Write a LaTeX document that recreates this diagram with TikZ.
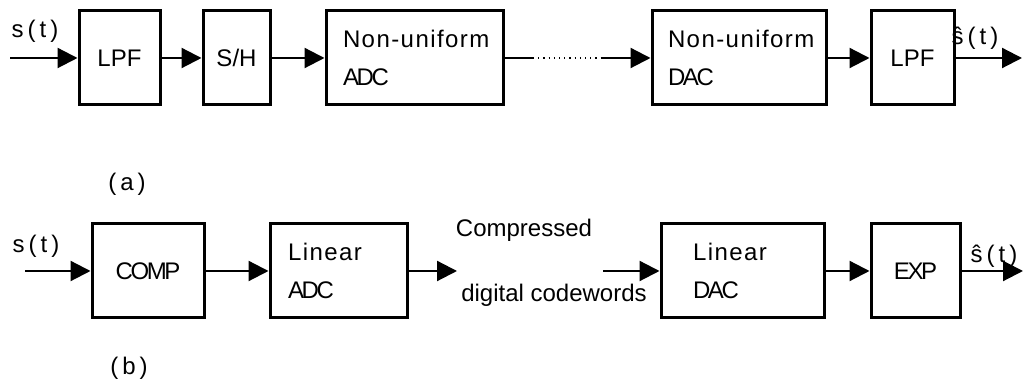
\documentclass[tikz,border=0pt]{standalone}
\usepackage{fontspec}
\setmainfont{Liberation Sans}
\newfontfamily\tight[LetterSpace=-10]{Liberation Sans}
\newfontfamily\wideft[LetterSpace=6]{Liberation Sans}
\usepackage{tikz}
\usetikzlibrary{arrows.meta, positioning}
\tikzset{box/.style={rectangle,draw,line width=1.5pt,minimum height=47pt,inner sep=0pt,align=center,font=\fontsize{12}{14}\selectfont},
  wbox/.style 2 args={box,align=left,text width=#1,inner xsep=#2,font=\fontsize{12}{19}\selectfont},
  line/.style={line width=1.1pt,-{Triangle[length=10pt,width=10pt]}},
  lbl/.style={anchor=base,inner sep=0pt,font=\fontsize{12}{14}\selectfont}}

\begin{document}
\begin{tikzpicture}[x=0.5pt,y=-0.5pt]
\useasboundingbox (0,0) rectangle (1024,383);
% (a) non-uniform converters
\node[box, minimum width=40.5pt] (lpf1) at (119.5,58) {LPF};
\node[box, minimum width=33.5pt, right=20pt of lpf1] (sh) {S/H};
\node[wbox={71.5pt}{8.5pt}, right=26.5pt of sh] (nadc) {\mbox{\wideft Non-uniform}\\{\tight ADC}};
\node[wbox={71pt}{8pt}, right=73pt of nadc] (ndac) {\mbox{\wideft Non-uniform}\\{\tight DAC}};
\node[box, minimum width=41.5pt, right=21pt of ndac] (lpf2) {LPF};
\coordinate (ina) at (10,58);
\coordinate (dota) at (533,58);
\coordinate (dotb) at (602,58);
\coordinate (outa) at (1022,58);
\draw[line] (ina) -- (lpf1);
\draw[line] (lpf1) -- (sh);
\draw[line] (sh) -- (nadc);
\draw[line width=1.1pt] (nadc) -- (dota);
\draw[line width=0.6pt, dotted] (dota) -- (dotb);
\draw[line] (dotb) -- (ndac);
\draw[line] (ndac) -- (lpf2);
\draw[line] (lpf2) -- (outa);
\node[lbl] (sa) at (35,38) {s\,(\,t\,)};
\node[lbl] (sha) at (975,45) {\^{s}\,(\,t\,)};
\node[lbl] (capa) at (127,191) {(\,a\,)};
% (b) companding
\node[box, minimum width=56pt] (comp) at (148,271) {\tight COMP};
\node[wbox={50.5pt}{9pt}, right=31.5pt of comp] (ladc) {\mbox{\wideft Linear}\\{\tight ADC}};
\node[wbox={49.5pt}{16pt}, right=125.5pt of ladc] (ldac) {\mbox{\wideft Linear}\\{\tight DAC}};
\node[box, minimum width=44.5pt, right=22pt of ldac] (exp) {\tight EXP};
\coordinate (inb) at (25,271);
\coordinate (cwa) at (457,271);
\coordinate (cwb) at (603,271);
\coordinate (outb) at (1023,271);
\draw[line] (inb) -- (comp);
\draw[line] (comp) -- (ladc);
\draw[line] (ladc) -- (cwa);
\draw[line] (cwb) -- (ldac);
\draw[line] (ldac) -- (exp);
\draw[line] (exp) -- (outb);
\node[lbl] (sb) at (36,253) {s\,(\,t\,)};
\node[lbl] (shb) at (994,263) {\^{s}\,(\,t\,)};
\node[lbl] (cw1) at (524,237) {Compressed};
\node[lbl] (cw2) at (554,302) {digital codewords};
\node[lbl] (capb) at (129,375) {(\,b\,)};
\end{tikzpicture}
\end{document}
